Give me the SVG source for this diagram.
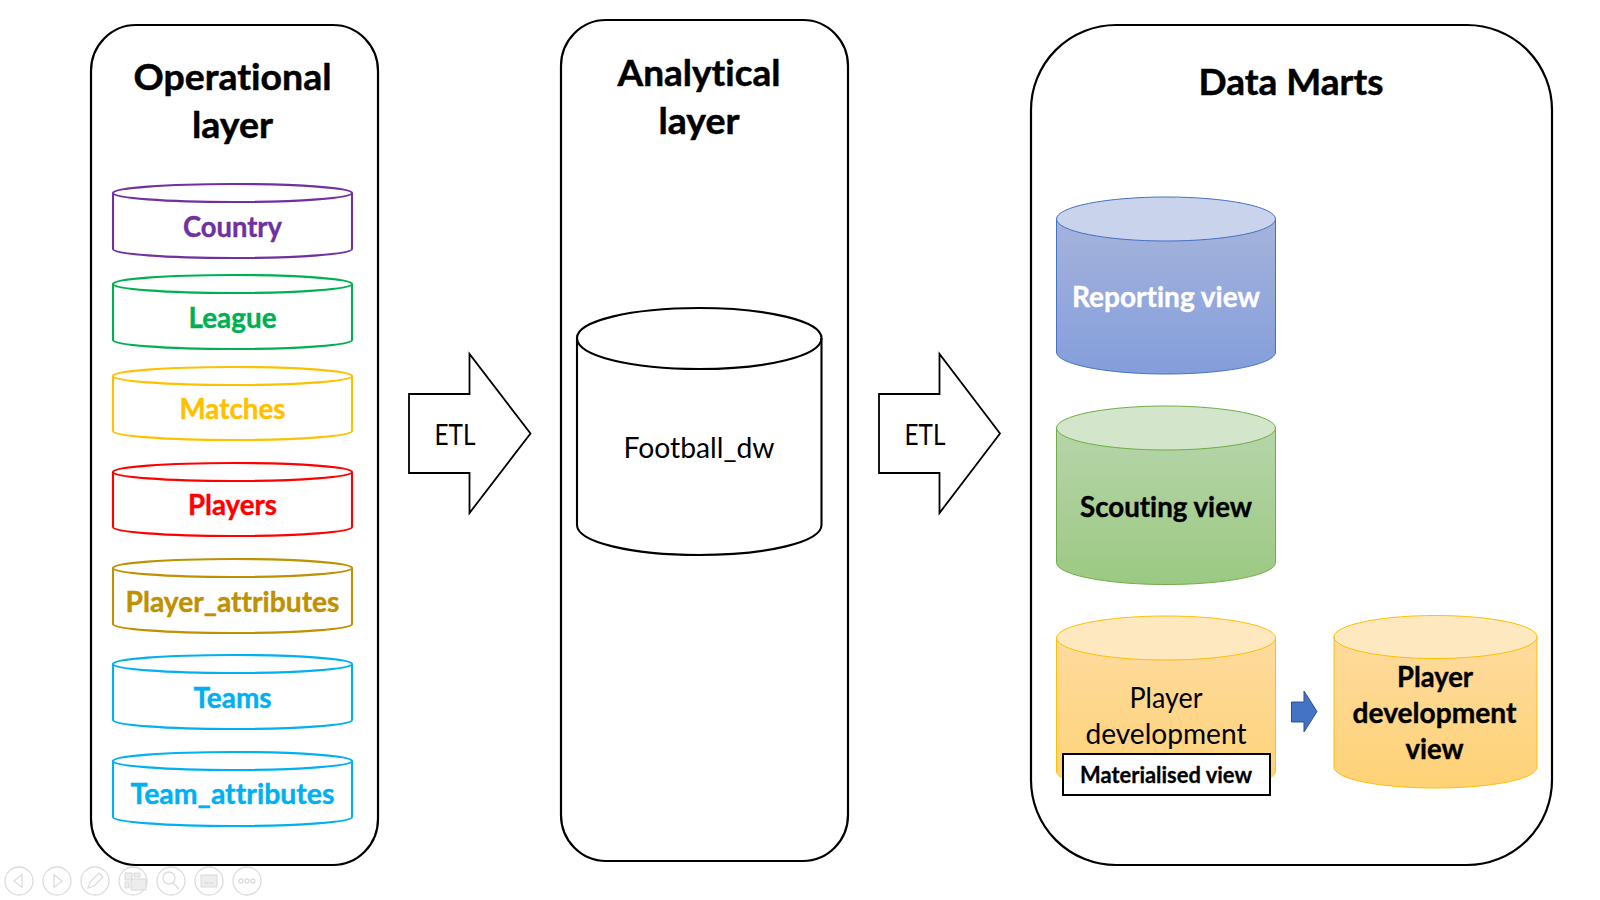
<svg xmlns="http://www.w3.org/2000/svg" width="1600" height="900" viewBox="0 0 1600 900">
<style>
text{font-family:Lato,"Liberation Sans",sans-serif;text-anchor:middle;font-variant-ligatures:none}
.b{font-weight:700}
.h{font-size:37px;font-weight:700;fill:#000;stroke:#000;stroke-width:.5}
.l{font-size:28px;stroke-width:.4}
.m{font-size:29px;fill:#000}
.box{fill:#fff;stroke:#000;stroke-width:2.2}
.ln{fill:none;stroke-width:2.1}
.cy{fill:#fff;stroke-width:2.1}
.blk{fill:#fff;stroke:#000;stroke-width:1.8}
.ic{fill:none;stroke:#dcdcdc;stroke-width:1.3}
.if{fill:#ededed;stroke:#d9d9d9;stroke-width:1}
</style>
<defs>
<linearGradient id="gb" x1="0" y1="0" x2="0" y2="1"><stop offset="0" stop-color="#a5b3dc"/><stop offset="1" stop-color="#849edb"/></linearGradient>
<linearGradient id="gg" x1="0" y1="0" x2="0" y2="1"><stop offset="0" stop-color="#b6d5aa"/><stop offset="1" stop-color="#9bc982"/></linearGradient>
<linearGradient id="go" x1="0" y1="0" x2="0" y2="1"><stop offset="0" stop-color="#fedb9e"/><stop offset="1" stop-color="#ffd276"/></linearGradient>
</defs>
<rect width="1600" height="900" fill="#fff"/>

<g id="operational-layer">
<rect class="box" x="91" y="25" width="287" height="840" rx="45" ry="46"/>
<text class="h" x="232.500" y="90" textLength="198" lengthAdjust="spacingAndGlyphs">Operational</text>
<text class="h" x="232.500" y="138" textLength="81" lengthAdjust="spacingAndGlyphs">layer</text>
</g>
<g id="country" stroke="#7030a0">
<path class="cy" d="M113 193C113 188 166 184 232.500 184S352 188 352 193V249C352 254 299 258 232.500 258S113 254 113 249Z"/>
<path class="ln" d="M113 193C113 198 166 202 232.500 202S352 198 352 193"/>
<text class="l b" x="232.500" y="237" fill="#7030a0" textLength="99" lengthAdjust="spacingAndGlyphs">Country</text>
</g>
<g id="league" stroke="#00b050">
<path class="cy" d="M113 284C113 279 166 275 232.500 275S352 279 352 284V340C352 345 299 349 232.500 349S113 345 113 340Z"/>
<path class="ln" d="M113 284C113 289 166 293 232.500 293S352 289 352 284"/>
<text class="l b" x="232.500" y="328" fill="#00b050" textLength="88" lengthAdjust="spacingAndGlyphs">League</text>
</g>
<g id="matches" stroke="#ffc000">
<path class="cy" d="M113 376C113 371 166 367 232.500 367S352 371 352 376V431C352 436 299 440 232.500 440S113 436 113 431Z"/>
<path class="ln" d="M113 376C113 381 166 385 232.500 385S352 381 352 376"/>
<text class="l b" x="232.500" y="419" fill="#ffc000" textLength="106" lengthAdjust="spacingAndGlyphs">Matches</text>
</g>
<g id="players" stroke="#ff0000">
<path class="cy" d="M113 472C113 467 166 463 232.500 463S352 467 352 472V527C352 532 299 536 232.500 536S113 532 113 527Z"/>
<path class="ln" d="M113 472C113 477 166 481 232.500 481S352 477 352 472"/>
<text class="l b" x="232.500" y="515" fill="#ff0000" textLength="89" lengthAdjust="spacingAndGlyphs">Players</text>
</g>
<g id="player-attributes" stroke="#bf9000">
<path class="cy" d="M113 568C113 563 166 559 232.500 559S352 563 352 568V624C352 629 299 633 232.500 633S113 629 113 624Z"/>
<path class="ln" d="M113 568C113 573 166 577 232.500 577S352 573 352 568"/>
<text class="l b" x="232.500" y="612" fill="#bf9000" textLength="214" lengthAdjust="spacingAndGlyphs">Player_attributes</text>
</g>
<g id="teams" stroke="#00b0f0">
<path class="cy" d="M113 664C113 659 166 655 232.500 655S352 659 352 664V720C352 725 299 729 232.500 729S113 725 113 720Z"/>
<path class="ln" d="M113 664C113 669 166 673 232.500 673S352 669 352 664"/>
<text class="l b" x="232.500" y="708" fill="#00b0f0" textLength="78" lengthAdjust="spacingAndGlyphs">Teams</text>
</g>
<g id="team-attributes" stroke="#00b0f0">
<path class="cy" d="M113 761C113 756 166 752 232.500 752S352 756 352 761V817C352 822 299 826 232.500 826S113 822 113 817Z"/>
<path class="ln" d="M113 761C113 766 166 770 232.500 770S352 766 352 761"/>
<text class="l b" x="232.500" y="804" fill="#00b0f0" textLength="204" lengthAdjust="spacingAndGlyphs">Team_attributes</text>
</g>

<g id="analytical-layer">
<rect class="box" x="561" y="20" width="287" height="841" rx="45" ry="46"/>
<text class="h" x="699" y="85.500" textLength="163" lengthAdjust="spacingAndGlyphs">Analytical</text>
<text class="h" x="699" y="133.500" textLength="81" lengthAdjust="spacingAndGlyphs">layer</text>
</g>
<g id="football-dw" stroke="#000">
<path class="cy" d="M577 338C577 321 631 308 699 308S821.500 321 821.500 338V525C821.500 542 767 555 699 555S577 542 577 525Z"/>
<path class="ln" d="M577 338C577 356 631 369 699 369S821.500 356 821.500 338"/>
<text class="m" x="699" y="458" stroke="none" textLength="151" lengthAdjust="spacingAndGlyphs">Football_dw</text>
</g>

<g id="data-marts">
<rect class="box" x="1031" y="25" width="521" height="840" rx="85" ry="85"/>
<text class="h" x="1291" y="95" textLength="185" lengthAdjust="spacingAndGlyphs">Data Marts</text>
</g>
<g id="reporting-view" stroke="#4472c4" stroke-width="1">
<path fill="url(#gb)" d="M1056.500 219V352C1056.500 364 1105 374 1166 374S1275.500 364 1275.500 352V219Z"/>
<ellipse cx="1166" cy="219" rx="109.500" ry="22" fill="#c9d3eb"/>
<text class="l b" x="1166" y="307" fill="#fff" stroke="#fff" textLength="188" lengthAdjust="spacingAndGlyphs">Reporting view</text>
</g>
<g id="scouting-view" stroke="#70ad47" stroke-width="1">
<path fill="url(#gg)" d="M1056.500 428V562.500C1056.500 574.500 1105 584.500 1166 584.500S1275.500 574.500 1275.500 562.500V428Z"/>
<ellipse cx="1166" cy="428" rx="109.500" ry="22" fill="#d3e5cb"/>
<text class="l b" x="1166" y="517" fill="#000" stroke="#000" textLength="172" lengthAdjust="spacingAndGlyphs">Scouting view</text>
</g>
<g id="player-development" stroke="#ffc000" stroke-width="1">
<path fill="url(#go)" d="M1056.500 638V771C1056.500 783 1105 793 1166 793S1275.500 783 1275.500 771V638Z"/>
<ellipse cx="1166" cy="638" rx="109.500" ry="22" fill="#fee8bf"/>
<text class="m" x="1166" y="708" stroke="none" textLength="73" lengthAdjust="spacingAndGlyphs">Player</text>
<text class="m" x="1166" y="744" stroke="none" textLength="161" lengthAdjust="spacingAndGlyphs">development</text>
</g>
<g id="materialised-view">
<rect x="1063" y="754" width="207" height="41" fill="#fff" stroke="#000" stroke-width="2"/>
<text class="b" x="1166" y="783" font-size="23" fill="#000" stroke="#000" stroke-width=".3" textLength="172" lengthAdjust="spacingAndGlyphs">Materialised view</text>
</g>
<g id="player-development-view" stroke="#ffc000" stroke-width="1">
<path fill="url(#go)" d="M1334 637V767C1334 779 1379 788 1435.500 788S1537 779 1537 767V637Z"/>
<ellipse cx="1435.500" cy="637" rx="101.500" ry="21.500" fill="#fee8bf"/>
<text class="l b" x="1435" y="687" fill="#000" stroke="#000" textLength="76" lengthAdjust="spacingAndGlyphs">Player</text>
<text class="l b" x="1434.500" y="723" fill="#000" stroke="#000" textLength="164" lengthAdjust="spacingAndGlyphs">development</text>
<text class="l b" x="1434.500" y="759" fill="#000" stroke="#000" textLength="58" lengthAdjust="spacingAndGlyphs">view</text>
</g>

<g id="connectors">
<g id="etl-1">
<path class="blk" d="M409 394H469.500V354L530.500 433.500L469.500 513V473H409Z"/>
<text class="m" x="455" y="445" stroke="none" textLength="41" lengthAdjust="spacingAndGlyphs">ETL</text>
</g>
<g id="etl-2">
<path class="blk" d="M879 394H939.500V354L1000 433.500L939.500 513V473H879Z"/>
<text class="m" x="925" y="445" stroke="none" textLength="41" lengthAdjust="spacingAndGlyphs">ETL</text>
</g>
<path id="pd-arrow" d="M1291.500 702H1304V691L1317 711.500L1304 732V722H1291.500Z" fill="#4472c4" stroke="#2f528f" stroke-width="1"/>
</g>

<g id="slideshow-controls">
<circle class="ic" cx="19" cy="881" r="14"/><path class="ic" d="M22 874.500V887.500L14 881Z"/>
<circle class="ic" cx="57" cy="881" r="14"/><path class="ic" d="M54 874.500V887.500L62 881Z"/>
<circle class="ic" cx="95" cy="881" r="14"/><path class="ic" d="M88 888L90 882L99 873L103 877L94 886Z"/>
<circle class="ic" cx="133" cy="881" r="14"/><path class="if" d="M125 873H132V880H125ZM134 873H140V877H134ZM125 882H129V888H125ZM131 879H146V890H131Z"/>
<circle class="ic" cx="171" cy="881" r="14"/><circle class="ic" cx="169" cy="878" r="6" stroke-width="2"/><path class="ic" d="M173 883L179 889" stroke-width="2"/>
<circle class="ic" cx="209" cy="881" r="14"/><rect class="if" x="201" y="875" width="16" height="12"/><path class="ic" d="M204 883H214" stroke="#bbb"/>
<circle class="ic" cx="247" cy="881" r="14"/><circle class="ic" cx="241" cy="881" r="2"/><circle class="ic" cx="247" cy="881" r="2"/><circle class="ic" cx="253" cy="881" r="2"/>
</g>
</svg>
